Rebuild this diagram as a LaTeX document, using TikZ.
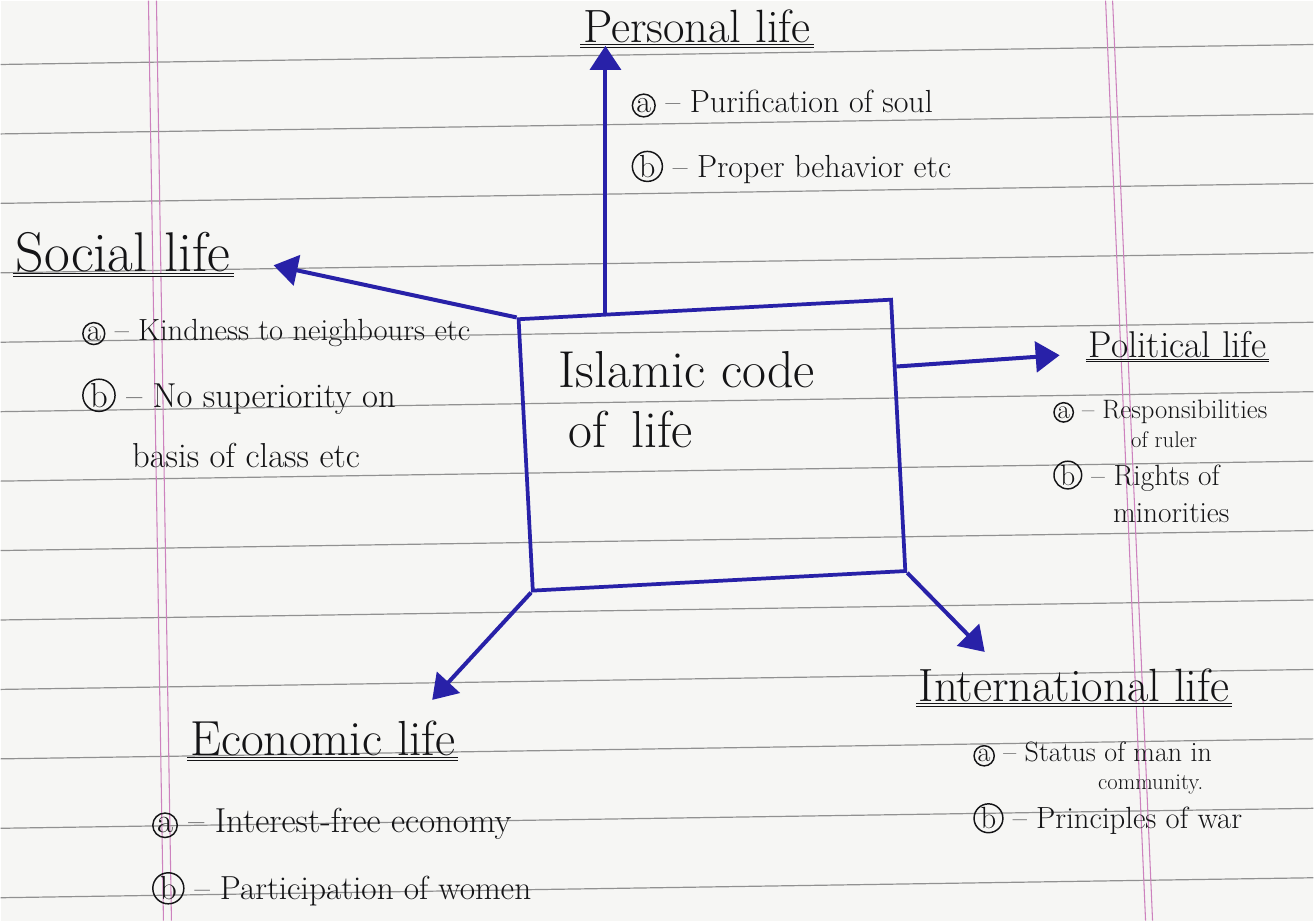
\documentclass[tikz,border=0pt]{standalone}
\usepackage{fontspec}
\usetikzlibrary{arrows.meta,calc}
\definecolor{pen}{RGB}{40,33,168}
\definecolor{ink}{RGB}{20,20,22}
\definecolor{rule}{RGB}{145,145,145}
\definecolor{margin}{RGB}{205,130,190}
\definecolor{paper}{RGB}{246,246,244}
% circled item letters
\newcommand{\circled}[1]{\tikz[baseline=(char.base)]\node[draw=ink,circle,line width=1.1pt,inner sep=0.6pt] (char) {#1};}
\newcommand{\ca}{\circled{a}}
\newcommand{\cb}{\circled{b}}

\begin{document}
\begin{tikzpicture}[x=0.75pt,y=-0.75pt,
    head/.style={anchor=base west,inner sep=2pt,text=ink,font=\fontsize{35}{38}\selectfont},
    item/.style={anchor=base west,inner sep=1pt,text=ink,font=\fontsize{24}{26}\selectfont},
    title/.style={anchor=base west,inner sep=1pt,text=ink,font=\fontsize{39}{42}\selectfont},
    codebox/.style={draw=pen,line width=2.8pt,rotate=3,minimum width=280pt,minimum height=204pt,inner sep=0pt},
    arrow/.style={pen,line width=3pt,-{Triangle[length=18pt,width=23pt]}}]

  % ruled notebook page
  \fill[paper] (0,0) rectangle (1314,921);
  \foreach \k in {0,...,12}
    \draw[rule,line width=0.9pt] (0,{64+69.5*\k}) -- (1314,{44+69.5*\k});
  \draw[margin,line width=0.8pt] (148,0) -- (163,921) (156,0) -- (171,921);
  \draw[margin,line width=0.8pt] (1106,0) -- (1146,921) (1113,0) -- (1153,921);
  \useasboundingbox (0,0) rectangle (1314,921);

  % centre box
  \node[codebox] (code) at (712,445) {};
  \node[title] (code1) at (557,387) {Islamic code};
  \node[title] (code2) at (567,447) {of \,life};

  % personal
  \node[head] (personal) at (580,42) {Personal life};
  \node[item] (pa) at (630,112) {\ca\ -- Purification of soul};
  \node[item] (pb) at (630,177) {\cb\ -- Proper behavior etc};

  % social
  \node[head,font=\fontsize{42}{44}\selectfont] (social) at (12,271) {Social life};
  \node[item,font=\fontsize{23}{26}\selectfont] (sa) at (80,340) {\ca\ -- Kindness to neighbours etc};
  \node[item,font=\fontsize{26}{28}\selectfont] (sb) at (80,407) {\cb\ -- No superiority on};
  \node[item,font=\fontsize{26}{28}\selectfont] (sc) at (130,467) {basis of class etc};

  % political
  \node[head,font=\fontsize{28}{30}\selectfont] (political) at (1086,357) {Political life};
  \node[item,font=\fontsize{20}{22}\selectfont] (pola) at (1052,418) {\ca\ -- Responsibilities};
  \node[item,font=\fontsize{17}{18}\selectfont] (polr) at (1130,447) {of ruler};
  \node[item,font=\fontsize{22}{24}\selectfont] (polb) at (1052,485) {\cb\ -- Rights of};
  \node[item,font=\fontsize{22}{24}\selectfont] (polc) at (1112,522) {minorities};

  % international
  \node[head] (international) at (916,702) {International life};
  \node[item,font=\fontsize{21}{24}\selectfont] (ia) at (972,762) {\ca\ -- Status of man in};
  \node[item,font=\fontsize{17}{18}\selectfont] (ic) at (1097,790) {community.};
  \node[item,font=\fontsize{23}{26}\selectfont] (ib) at (972,829) {\cb\ -- Principles of war};

  % economic
  \node[head,font=\fontsize{37}{40}\selectfont] (economic) at (187,756) {Economic life};
  \node[item,font=\fontsize{26}{28}\selectfont] (ea) at (150,833) {\ca\ -- Interest-free economy};
  \node[item,font=\fontsize{25}{28}\selectfont] (eb) at (150,900) {\cb\ -- Participation of women};

  % underlined headings
  \foreach \h in {personal,social,political,international,economic}
    \draw[ink,line width=0.7pt,double=paper,double distance=1.2pt] (\h.south west) -- (\h.south east);

  % arrows out of the box
  \coordinate (ptop) at ($(code.north west)!0.236!(code.north east)$);
  \coordinate (pright) at ($(code.north east)!0.25!(code.south east)$);
  \draw[arrow] (ptop) -- (ptop |- personal.south);
  \draw[arrow] (code.north west) -- ($(social.base east)+(40,-6)$);
  \draw[arrow] (pright) -- ($(political.base west)+(-26,-2)$);
  \draw[arrow] (code.south east) -- ($(international.base west)+(69,-50)$);
  \draw[arrow] (code.south west) -- ($(economic.base west)+(245,-56)$);
\end{tikzpicture}
\end{document}
